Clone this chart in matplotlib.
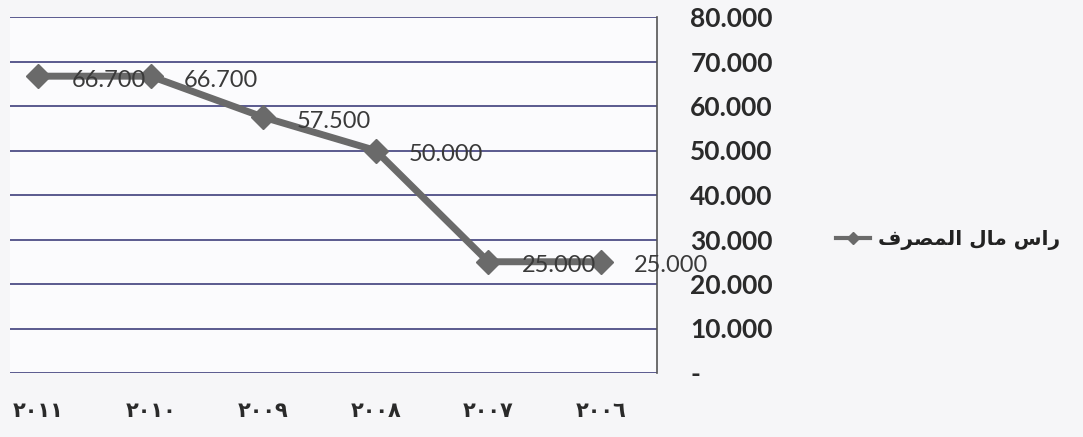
import matplotlib
matplotlib.use("Agg")
import matplotlib.pyplot as plt
from matplotlib.ticker import FixedLocator, FuncFormatter

# Data
years = ["٢٠١١", "٢٠١٠", "٢٠٠٩", "٢٠٠٨", "٢٠٠٧", "٢٠٠٦"]
capital = [66.7, 66.7, 57.5, 50.0, 25.0, 25.0]
y_ticks = [0, 10, 20, 30, 40, 50, 60, 70, 80]
# "راس مال المصرف" written in presentation forms, visual order
series_name = "ﻑﺮﺼﻤﻟﺍ ﻝﺎﻣ ﺱﺍﺭ"

W, H = 1083, 437
fig = plt.figure(figsize=(W / 100, H / 100), dpi=100)
fig.patch.set_facecolor("#f6f6f8")

left, right, top, bottom = 10, 657, 17, 373
ax = fig.add_axes([left / W, 1 - bottom / H, (right - left) / W, (bottom - top) / H])
ax.set_facecolor("#fbfbfd")

x = list(range(len(years)))
line_color = "#6a6a6a"
ax.plot(x, capital, color=line_color, lw=5, marker="D", markersize=12,
        markerfacecolor=line_color, markeredgecolor=line_color, zorder=3,
        solid_joinstyle="round")

for xi, v in zip(x, capital):
    ax.annotate(f"{v:.3f}", (xi, v), xytext=(24, -3), textcoords="offset points",
                ha="left", va="center", fontsize=17, family="Lato",
                color="#3a3a3a", zorder=4, annotation_clip=False)

ax.set_ylim(0, 80)
ax.set_xlim(-0.25, 5.5)

ax.yaxis.set_major_locator(FixedLocator(y_ticks))
ax.yaxis.set_major_formatter(FuncFormatter(lambda v, p: "-" if v == 0 else f"{v:.3f}"))
ax.yaxis.tick_right()
ax.tick_params(axis="y", length=0, pad=24, labelsize=19, labelcolor="#2a2a2a")
for lab in ax.get_yticklabels():
    lab.set_fontfamily("Lato")
    lab.set_fontweight("bold")

ax.set_xticks(x)
ax.set_xticklabels(years, fontsize=15, fontweight="bold", family="DejaVu Sans", color="#2a2a2a")
ax.tick_params(axis="x", length=0, pad=20)

ax.grid(axis="y", color="#4e4e86", lw=1.3, zorder=1)
ax.grid(axis="x", visible=False)
for s in ["left", "top", "bottom"]:
    ax.spines[s].set_visible(False)
ax.spines["right"].set_color("#555555")
ax.spines["right"].set_linewidth(1.2)

handle, = ax.plot([], [], color=line_color, lw=3, marker="D", markersize=6,
                  markerfacecolor=line_color)
leg = fig.legend([handle], [series_name], loc="center left",
                 bbox_to_anchor=(818 / W, 1 - 240 / H), frameon=False,
                 prop={"family": "DejaVu Sans", "size": 14.5, "weight": "bold"},
                 handlelength=1.7, handletextpad=0.4)
for t in leg.get_texts():
    t.set_color("#222222")

fig.savefig("out.png", dpi=100, facecolor=fig.get_facecolor())
